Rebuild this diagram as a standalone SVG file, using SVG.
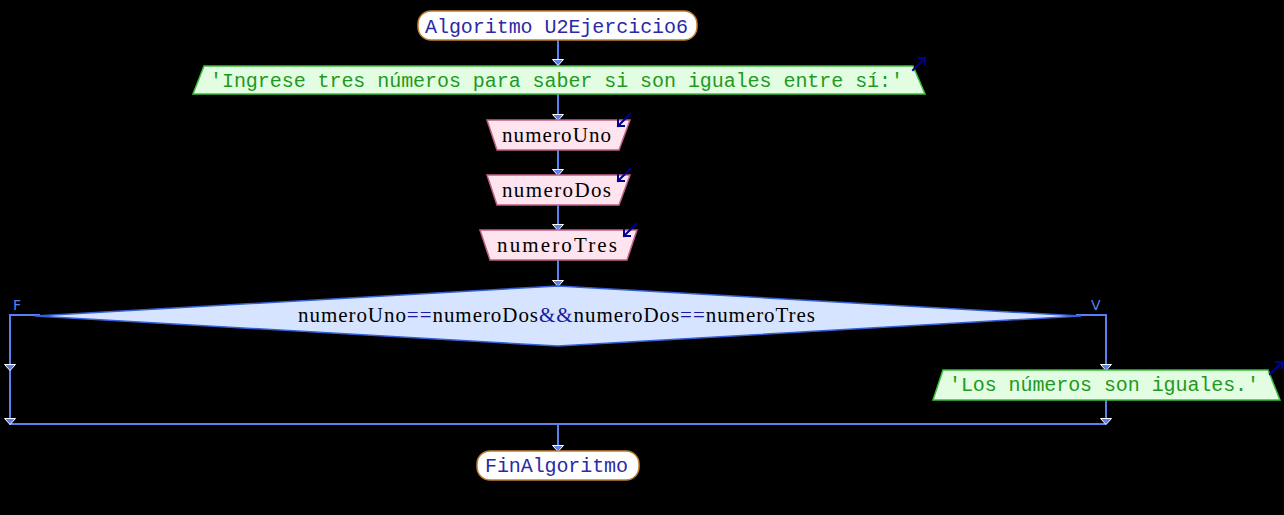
<svg xmlns="http://www.w3.org/2000/svg" width="1284" height="515" viewBox="0 0 1284 515">
<style>
.bg{fill:#000}
.ln{stroke:#5a80f0;stroke-width:2;fill:none}
.term{fill:#fff;stroke:#c08030;stroke-width:1.5}
.out{fill:#e2fde2;stroke:#3cbf3c;stroke-width:1.5}
.inp{fill:#fde4ee;stroke:#c06088;stroke-width:1.5}
.dec{fill:#d6e4ff;stroke:#3560d8;stroke-width:1.5}
.mono{font-family:"Liberation Mono","Courier New",monospace;font-size:20px}
.serif{font-family:"Liberation Serif","Times New Roman",serif;font-size:21px;fill:#000}
.tt{fill:#2a2aa8}
.gt{fill:#1e9a1e}
.op{fill:#1a1aa0}
.lbl{font-family:"DejaVu Sans",sans-serif;font-size:14px;fill:#5a80f0}
.ico{stroke:#000090;stroke-width:2;fill:none;stroke-linecap:square}
</style>
<defs>
<path id="ah" d="M-5.5,-5.5 L5.5,-5.5 L0,0.5 Z" fill="#5a80f0" stroke="#fff" stroke-width="1"/>
<path id="icoUp" class="ico" d="M0,12 L12,0 M6,0 L12,0 L12,6"/>
<path id="icoDn" class="ico" d="M12,0 L0,12 M0,6 L0,12 L6,12"/>
</defs>
<rect class="bg" x="0" y="0" width="1284" height="515"/>
<g id="connectors">
<line class="ln" x1="558" y1="40" x2="558" y2="66"/>
<line class="ln" x1="558" y1="94" x2="558" y2="120"/>
<line class="ln" x1="558" y1="150" x2="558" y2="175"/>
<line class="ln" x1="558" y1="205" x2="558" y2="230"/>
<line class="ln" x1="558" y1="260" x2="558" y2="286"/>
<polyline class="ln" points="40,315 10,315 10,424 1106,424"/>
<polyline class="ln" points="1076,315 1106,315 1106,370"/>
<line class="ln" x1="1106" y1="400" x2="1106" y2="424"/>
<line class="ln" x1="558" y1="424" x2="558" y2="451"/>
<use href="#ah" x="558" y="65"/>
<use href="#ah" x="558" y="120"/>
<use href="#ah" x="558" y="175"/>
<use href="#ah" x="558" y="230"/>
<use href="#ah" x="558" y="286"/>
<use href="#ah" x="10" y="370"/>
<use href="#ah" x="10" y="424"/>
<use href="#ah" x="1106" y="370"/>
<use href="#ah" x="1106" y="424"/>
<use href="#ah" x="558" y="451"/>
<text class="lbl" x="13" y="310">F</text>
<text class="lbl" x="1091" y="310">V</text>
</g>
<g id="start">
<rect class="term" x="418" y="11" width="279" height="29" rx="13"/>
<text class="mono tt" x="425" y="33" textLength="263" lengthAdjust="spacing">Algoritmo U2Ejercicio6</text>
</g>
<g id="out1">
<polygon class="out" points="204,66 913,66 925,94 193,94"/>
<text class="mono gt" x="210" y="87" textLength="693" lengthAdjust="spacing">'Ingrese tres números para saber si son iguales entre sí:'</text>
<use href="#icoUp" x="913" y="58"/>
</g>
<g id="in1">
<polygon class="inp" points="487,120 630,120 619,150 497,150"/>
<text class="serif" x="502" y="142" textLength="109" lengthAdjust="spacing">numeroUno</text>
<use href="#icoDn" x="618" y="114"/>
</g>
<g id="in2">
<polygon class="inp" points="487,175 630,175 619,205 497,205"/>
<text class="serif" x="502" y="197" textLength="109" lengthAdjust="spacing">numeroDos</text>
<use href="#icoDn" x="618" y="169"/>
</g>
<g id="in3">
<polygon class="inp" points="480,230 637,230 627,260 490,260"/>
<text class="serif" x="497" y="252" textLength="120" lengthAdjust="spacing">numeroTres</text>
<use href="#icoDn" x="624" y="224"/>
</g>
<g id="decision">
<polygon class="dec" points="558,286 1081,316 558,346 35,316"/>
<text class="serif" x="298" y="322" textLength="517" lengthAdjust="spacing">numeroUno<tspan class="op">==</tspan>numeroDos<tspan class="op">&amp;&amp;</tspan>numeroDos<tspan class="op">==</tspan>numeroTres</text>
</g>
<g id="out2">
<polygon class="out" points="943,370 1268,370 1280,400 933,400"/>
<text class="mono gt" x="949" y="391" textLength="310" lengthAdjust="spacing">'Los números son iguales.'</text>
<use href="#icoUp" x="1270" y="362"/>
</g>
<g id="end">
<rect class="term" x="477" y="451" width="162" height="29" rx="13"/>
<text class="mono tt" x="485" y="472" textLength="143" lengthAdjust="spacing">FinAlgoritmo</text>
</g>
</svg>
